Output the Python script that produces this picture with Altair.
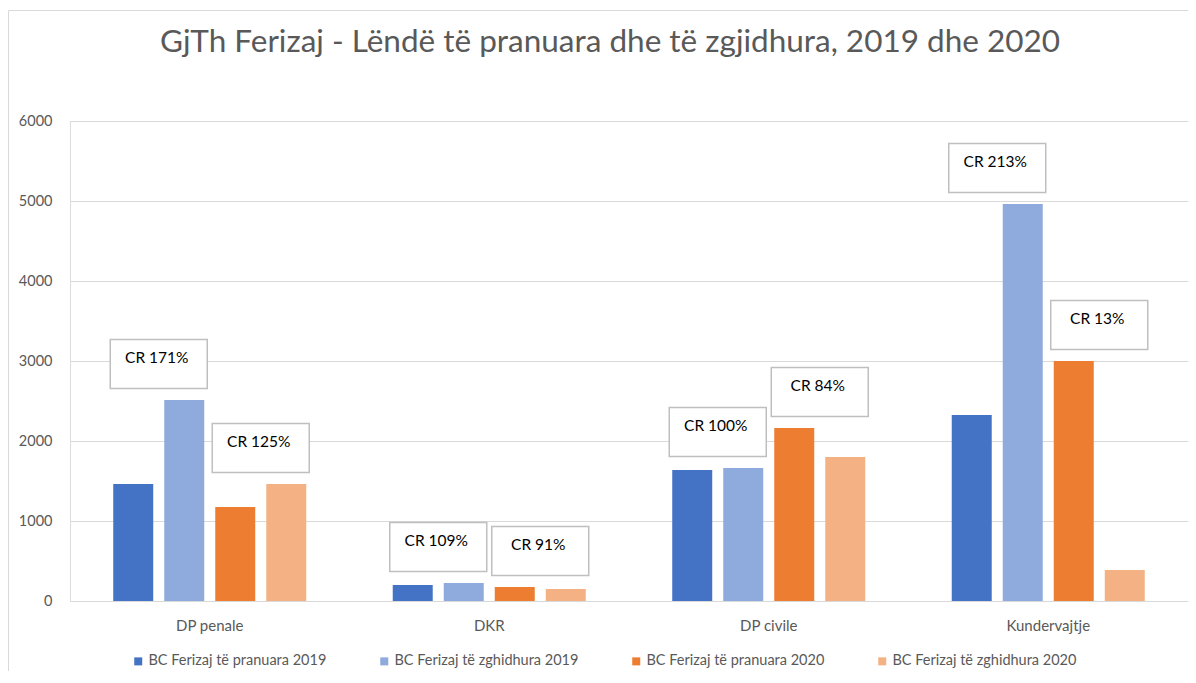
import altair as alt
import pandas as pd

categories = ["DP penale", "DKR", "DP civile", "Kundervajtje"]
series = [
    "BC Ferizaj të pranuara 2019",
    "BC Ferizaj të zghidhura 2019",
    "BC Ferizaj të pranuara 2020",
    "BC Ferizaj të zghidhura 2020",
]
pranuara_2019 = [1462, 200, 1637, 2325]
zgjidhura_2019 = [2512, 225, 1662, 4962]
pranuara_2020 = [1175, 175, 2162, 3000]
zgjidhura_2020 = [1462, 150, 1800, 387]
cr_2019 = ["CR 171%", "CR 109%", "CR 100%", "CR 213%"]
cr_2020 = ["CR 125%", "CR 91%", "CR 84%", "CR 13%"]
colors = ["#4472C4", "#8FAADC", "#ED7D31", "#F4B183"]

values_by_series = [pranuara_2019, zgjidhura_2019, pranuara_2020, zgjidhura_2020]
rows = []
for s, vals in zip(series, values_by_series):
    for c, v in zip(categories, vals):
        rows.append({"category": c, "series": s, "value": v})
bars_df = pd.DataFrame(rows)

ann_2019 = pd.DataFrame({
    "category": categories,
    "top": [max(a, b) for a, b in zip(pranuara_2019, zgjidhura_2019)],
    "label": cr_2019,
})
ann_2020 = pd.DataFrame({
    "category": categories,
    "top": [max(a, b) for a, b in zip(pranuara_2020, zgjidhura_2020)],
    "label": cr_2020,
})

FONT = "Lato"
GRAY = "#595959"

x_enc = alt.X(
    "category:N",
    sort=categories,
    scale=alt.Scale(paddingInner=0.27, paddingOuter=0.135),
    axis=alt.Axis(
        title=None, labelAngle=0, ticks=False, domain=False, grid=False,
        labelFont=FONT, labelFontSize=15, labelColor=GRAY, labelPadding=17,
    ),
)
y_enc = alt.Y(
    "value:Q",
    scale=alt.Scale(domain=[0, 6000], nice=False),
    axis=alt.Axis(
        title=None, values=[0, 1000, 2000, 3000, 4000, 5000, 6000], format="d",
        ticks=False, domain=False, grid=True, gridColor="#D9D9D9", gridWidth=1,
        labelFont=FONT, labelFontSize=14.5, labelColor=GRAY, labelPadding=18,
    ),
)

frame = alt.Chart(pd.DataFrame({"k": [0]})).mark_rect(
    fillOpacity=0, stroke="#D9D9D9", strokeWidth=1
).encode(
    x=alt.value(-61.5), x2=alt.value(1300),
    y=alt.value(-110.5), y2=alt.value(800),
)

bars = alt.Chart(bars_df).mark_bar().encode(
    x=x_enc,
    xOffset=alt.XOffset(
        "series:N", sort=series,
        scale=alt.Scale(paddingInner=0.216, paddingOuter=0.108),
    ),
    y=y_enc,
    color=alt.Color(
        "series:N", sort=series,
        scale=alt.Scale(domain=series, range=colors),
        legend=alt.Legend(
            title=None, orient="none", direction="horizontal",
            legendX=61, legendY=533,
            symbolType="square", symbolSize=64, symbolStrokeWidth=0,
            labelFont=FONT, labelFontSize=14.5, labelColor=GRAY,
            columnPadding=50, labelOffset=3, labelLimit=300,
        ),
    ),
)

BOX_PATH = "M-1,-0.505L1,-0.505L1,0.505L-1,0.505Z"
layers = [frame, bars]
for df, dx in [(ann_2019, -51), (ann_2020, 51)]:
    base = alt.Chart(df).encode(
        x=alt.X("category:N", sort=categories),
        y=alt.Y("top:Q"),
    )
    box = base.mark_point(
        shape=BOX_PATH, size=97 * 97, filled=True, fill="white",
        stroke="#BFBFBF", strokeWidth=1.5, opacity=1, fillOpacity=1,
        xOffset=dx, yOffset=-36,
    )
    txt = base.mark_text(
        font=FONT, fontSize=15.5, color="black",
        xOffset=dx - 2, yOffset=-42,
    ).encode(text="label:N")
    layers += [box, txt]

chart = alt.layer(*layers).properties(
    width=1118,
    height=480,
    title=alt.TitleParams(
        "GjTh Ferizaj - Lëndë të pranuara dhe të zgjidhura, 2019 dhe 2020",
        font=FONT, fontSize=31.5, fontWeight="normal", color=GRAY,
        anchor="middle", dx=-19, offset=-73, baseline="alphabetic",
    ),
    autosize=alt.AutoSizeParams(type="none"),
    padding={"left": 62, "top": 113, "right": 0, "bottom": 70},
).configure_view(stroke=None).configure(background="white")

chart.save("out.html", embed_options={"renderer": "svg", "actions": False})
